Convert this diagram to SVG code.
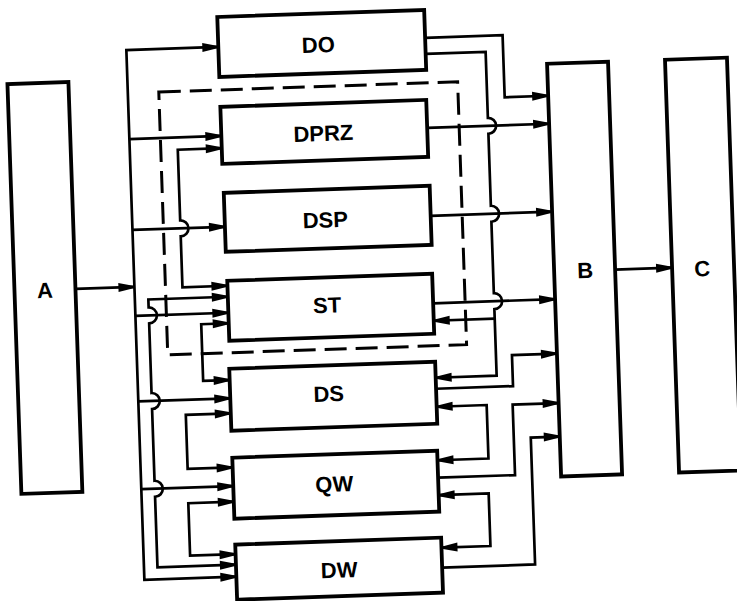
<svg xmlns="http://www.w3.org/2000/svg" width="737" height="601" viewBox="0 0 737 601">
<style>
.box{fill:#fff;stroke:#000;stroke-width:3.8;stroke-linejoin:miter}
.ln{fill:none;stroke:#000;stroke-width:2.7;stroke-linejoin:miter}
.dash{fill:none;stroke:#000;stroke-width:3;stroke-dasharray:22 9}
.lbl{font-family:"Liberation Sans",Arial,sans-serif;font-weight:bold;font-size:22px;text-anchor:middle;fill:#000}
.e{marker-end:url(#ah)}
.b{marker-start:url(#ah);marker-end:url(#ah)}
</style>
<defs>
<marker id="ah" markerUnits="userSpaceOnUse" markerWidth="17" markerHeight="11" refX="16" refY="5" orient="auto-start-reverse" overflow="visible">
<path d="M0,0.5 L16,4 L16,6 L0,9.5 z" fill="#000"/>
</marker>
</defs>
<rect x="0" y="0" width="737" height="601" fill="#fff"/>
<g transform="rotate(-1.95 368 300)">
<g id="connectors">
<rect class="dash" x="166" y="85" width="299" height="263"/>
<path class="ln e" d="M76,279 L135,279"/>
<path class="ln b" d="M227,42 L135,42 L135,572 L227,572"/>
<path class="ln e" d="M135,131 L227,131"/>
<path class="ln e" d="M135,222 L227.5,222"/>
<path class="ln e" d="M135,308 L228,308"/>
<path class="ln e" d="M135,393.6 L227,393.6"/>
<path class="ln e" d="M135,481.4 L227,481.4"/>
<path class="ln b" d="M227,143.3 L183,143.3 L183,214 A8,8 0 0 1 183,230 L183,281 L228,281"/>
<path class="ln b" d="M228,292 L148.5,292 L148.5,300 A8,8 0 0 1 148.5,316 L148.5,385.6 A8,8 0 0 1 148.5,401.6 L148.5,473.4 A8,8 0 0 1 148.5,489.4 L148.5,560 L227,560"/>
<path class="ln b" d="M228,318.5 L200.5,318.5 L200.5,375.3 L227,375.3"/>
<path class="ln b" d="M227,408.6 L182,408.6 L182,462.7 L227,462.7"/>
<path class="ln b" d="M227,497 L181.5,497 L181.5,549.5 L227,549.5"/>
<path class="ln e" d="M434,40 L511.5,40 L511.5,102 L555,102"/>
<path class="ln e" d="M434,56 L494,56 L494,122 A8,8 0 0 1 494,138 L494,210 A8,8 0 0 1 494,226 L494,297.5 A8,8 0 0 1 494,313.5 L494,380 L433,380"/>
<path class="ln e" d="M494,323 L433,323"/>
<path class="ln e" d="M433,130 L555,130"/>
<path class="ln e" d="M433.5,218 L555,218"/>
<path class="ln e" d="M433,305.5 L555,305.5"/>
<path class="ln e" d="M433,391 L510,391 L510,360 L555,360"/>
<path class="ln b" d="M433,409 L483,409 L483,462.5 L432,462.5"/>
<path class="ln e" d="M432,480 L509,480 L509,409.5 L555,409.5"/>
<path class="ln b" d="M432,497.5 L482,497.5 L482,550 L433,550"/>
<path class="ln e" d="M433,570 L526,570 L526,443 L555,443"/>
<path class="ln e" d="M616,278 L673,278"/>
</g>
<g id="node-A"><rect class="box" x="15" y="72" width="61" height="410"/><text class="lbl" x="45.5" y="287">A</text></g>
<g id="node-DO"><rect class="box" x="227" y="12" width="207" height="60"/><text class="lbl" x="327" y="51">DO</text></g>
<g id="node-DPRZ"><rect class="box" x="227" y="102" width="206" height="57"/><text class="lbl" x="329" y="139.5">DPRZ</text></g>
<g id="node-DSP"><rect class="box" x="227.5" y="188" width="206" height="59"/><text class="lbl" x="328" y="226">DSP</text></g>
<g id="node-ST"><rect class="box" x="228" y="276" width="205" height="60"/><text class="lbl" x="327" y="311.5">ST</text></g>
<g id="node-DS"><rect class="box" x="227" y="364" width="206" height="62"/><text class="lbl" x="325.5" y="400">DS</text></g>
<g id="node-QW"><rect class="box" x="227" y="453" width="205" height="61"/><text class="lbl" x="328" y="490.5">QW</text></g>
<g id="node-DW"><rect class="box" x="227" y="540" width="206" height="55"/><text class="lbl" x="330" y="576.5">DW</text></g>
<g id="node-B"><rect class="box" x="555" y="70" width="61" height="413"/><text class="lbl" x="586" y="285.5">B</text></g>
<g id="node-C"><rect class="box" x="673" y="70" width="62" height="413"/><text class="lbl" x="703" y="287.5">C</text></g>
</g>
</svg>
